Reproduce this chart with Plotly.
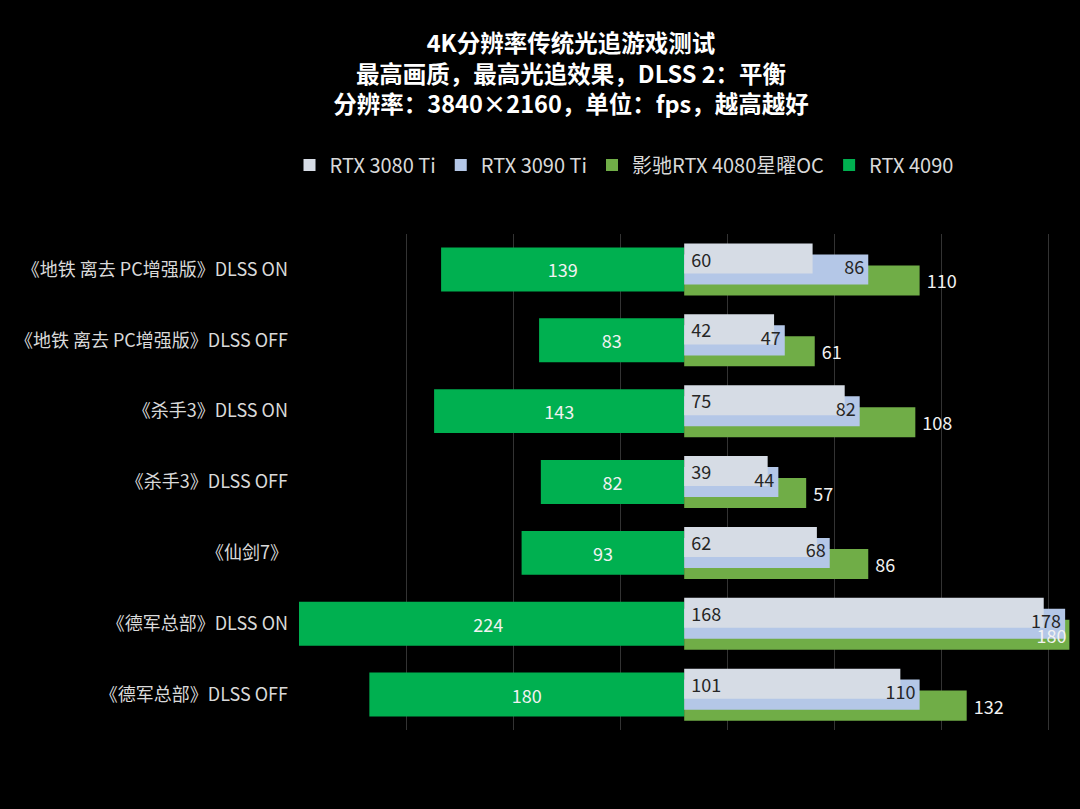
import plotly.graph_objects as go

# Game / setting labels (top to bottom)
categories = [
    "《地铁 离去 PC增强版》DLSS ON",
    "《地铁 离去 PC增强版》DLSS OFF",
    "《杀手3》DLSS ON",
    "《杀手3》DLSS OFF",
    "《仙剑7》",
    "《德军总部》DLSS ON",
    "《德军总部》DLSS OFF",
]

# fps values
rtx3080ti = [60, 42, 75, 39, 62, 168, 101]
rtx3090ti = [86, 47, 82, 44, 68, 178, 110]
rtx4080 = [110, 61, 108, 57, 86, 180, 132]
rtx4090 = [139, 83, 143, 82, 93, 224, 180]

names = ["RTX 3080 Ti", "RTX 3090 Ti", "影驰RTX 4080星曜OC", "RTX 4090"]
colors = ["#D6DCE5", "#B4C7E7", "#70AD47", "#00B050"]

FONT = "Noto Sans CJK SC"
BAR_W = 0.424
LBL = 18

# the 4080 label of the longest bar does not fit outside, Excel pushed it in
pos_4080 = ["outside" if v < 150 else "inside" for v in rtx4080]

fig = go.Figure()

# RTX 4090 goes to the left, on its own (reversed) axis
fig.add_trace(go.Bar(
    x=rtx4090, y=categories, orientation="h", name=names[3],
    marker=dict(color=colors[3], line_width=0),
    offset=-0.31, width=0.62,
    text=rtx4090, textposition="inside", insidetextanchor="middle",
    textangle=0, constraintext="none",
    insidetextfont=dict(color="#F2F2F2", size=LBL, family=FONT),
    xaxis="x", yaxis="y", legendrank=4,
))

# the other three overlap on the right; drawn bottom-most first
fig.add_trace(go.Bar(
    x=rtx4080, y=categories, orientation="h", name=names[2],
    marker=dict(color=colors[2], line_width=0),
    offset=-0.056, width=BAR_W,
    xaxis="x2", yaxis="y", legendrank=3,
))
fig.add_trace(go.Bar(
    x=rtx3090ti, y=categories, orientation="h", name=names[1],
    marker=dict(color=colors[1], line_width=0),
    offset=-0.211, width=BAR_W,
    xaxis="x2", yaxis="y", legendrank=2,
))
fig.add_trace(go.Bar(
    x=rtx3080ti, y=categories, orientation="h", name=names[0],
    marker=dict(color=colors[0], line_width=0),
    offset=-0.366, width=BAR_W,
    text=rtx3080ti, texttemplate=" %{x}", textposition="inside",
    insidetextanchor="start", textangle=0, constraintext="none",
    insidetextfont=dict(color="#262626", size=LBL, family=FONT),
    xaxis="x2", yaxis="y", legendrank=1,
))

# 4080 labels drawn last (transparent copy) so they stay on top
fig.add_trace(go.Bar(
    x=rtx4080, y=categories, orientation="h",
    marker=dict(color="rgba(0,0,0,0)", line_width=0),
    offset=-0.056, width=BAR_W,
    text=rtx4080, texttemplate=" %{x}", textposition=pos_4080,
    insidetextanchor="end", textangle=0, constraintext="none",
    textfont=dict(color="#F2F2F2", size=LBL, family=FONT),
    cliponaxis=False, showlegend=False, hoverinfo="skip",
    xaxis="x2", yaxis="y",
))

# 3090 Ti labels sit on top of the 3080 Ti bars
fig.add_trace(go.Scatter(
    x=rtx3090ti, y=categories, mode="text", text=rtx3090ti,
    texttemplate="%{x} ", textposition="middle left",
    textfont=dict(color="#262626", size=LBL, family=FONT),
    xaxis="x2", yaxis="y", showlegend=False, hoverinfo="skip",
))

fig.update_layout(
    width=1080, height=809,
    paper_bgcolor="black", plot_bgcolor="black",
    font=dict(family=FONT, color="#D9D9D9"),
    margin=dict(l=299, r=0, t=234, b=79),
    barmode="overlay",
    title=dict(
        text="4K分辨率传统光追游戏测试<br>最高画质，最高光追效果，DLSS 2：平衡<br>"
             "分辨率：3840×2160，单位：fps，越高越好",
        x=571 / 1080, xanchor="center", yref="container", y=1 - 52 / 809,
        yanchor="top",
        font=dict(size=23.5, color="white", family=FONT, weight="bold"),
    ),
    legend=dict(
        orientation="h", xref="container", yref="container",
        x=624 / 1080, xanchor="center", y=1 - 165 / 809, yanchor="middle",
        font=dict(size=20, color="#D9D9D9", family=FONT),
        itemwidth=30, bgcolor="rgba(0,0,0,0)",
    ),
    xaxis=dict(
        range=[220.2, -226.1], showgrid=False, zeroline=False,
        showticklabels=False, ticks="", fixedrange=True,
    ),
    xaxis2=dict(
        range=[-180, 184.95], overlaying="x", side="top",
        tick0=20, dtick=50, showgrid=True, gridcolor="#333333", gridwidth=1,
        zeroline=False, showticklabels=False, ticks="",
    ),
    yaxis=dict(
        type="category", range=[6.5, -0.5], showgrid=False, zeroline=False,
        ticks="", ticklabelstandoff=10,
        tickfont=dict(size=18, color="#D9D9D9", family=FONT),
    ),
)

fig.write_html(
    "out.html",
    config={"displayModeBar": False},
    post_script="document.body.style.margin='0';"
                "document.body.style.backgroundColor='black';",
)
